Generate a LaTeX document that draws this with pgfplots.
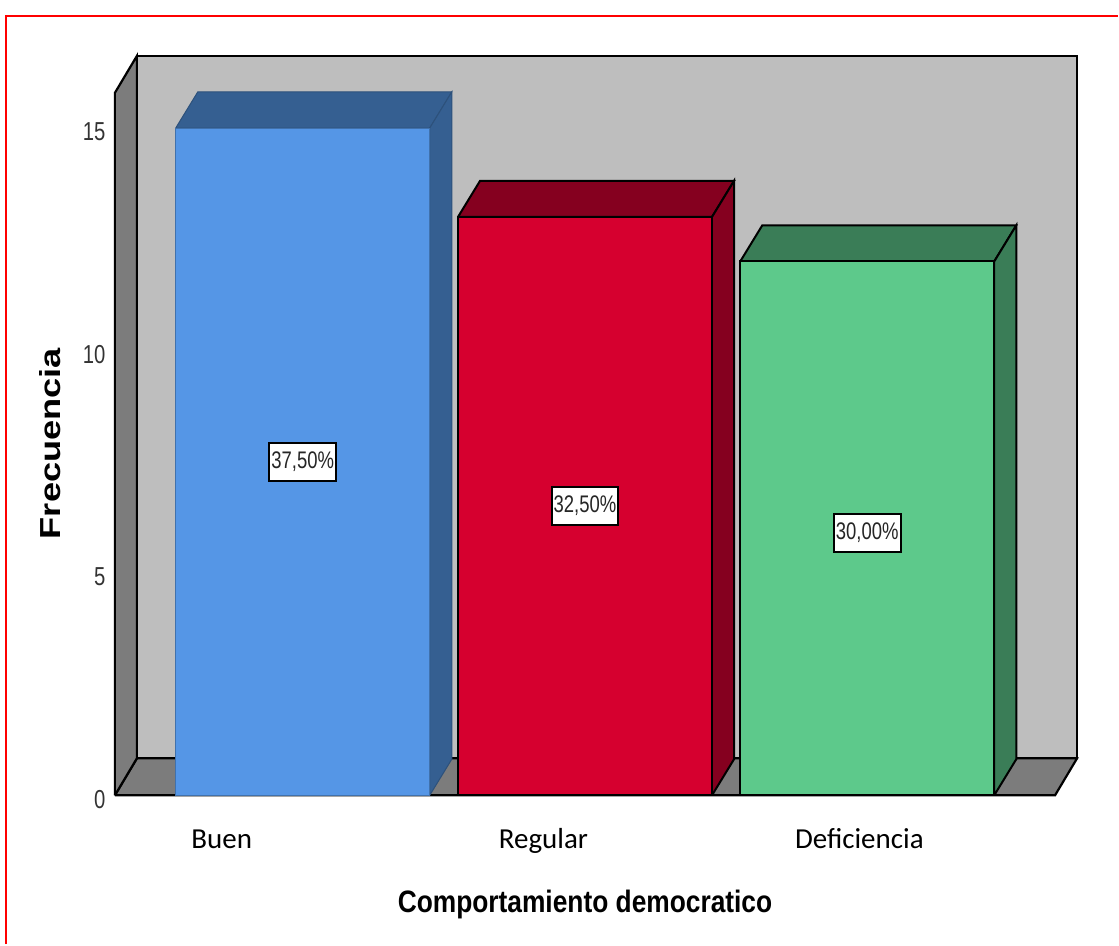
\documentclass[border=0pt]{standalone}
\usepackage{fontspec}
\setmainfont{Liberation Sans}
\newfontfamily\carlito{Carlito}
\usepackage{graphicx}
\usepackage{pgfplots}
\pgfplotsset{compat=1.18}
\definecolor{wallc}{HTML}{BEBEBE}
\definecolor{floorc}{HTML}{7C7C7C}
\definecolor{blueF}{HTML}{5596E6}
\definecolor{blueD}{HTML}{355F91}
\definecolor{redF}{HTML}{D6002F}
\definecolor{redD}{HTML}{85001F}
\definecolor{greenF}{HTML}{5DC98B}
\definecolor{greenD}{HTML}{3A7D57}
\begin{document}
\begin{tikzpicture}[x=1pt,y=1pt]
\path (0,0) rectangle (1119,945);
\draw[red, line width=2pt] (6,0) -- (6,929) -- (1119,929);
\begin{axis}[
    at={(115pt,149pt)}, anchor=south west,
    scale only axis, width=963pt, height=740pt,
    xmin=-0.6655, xmax=2.7434, ymin=0, ymax=16.62,
    axis lines=none, clip=false,
    hide x axis=false, hide y axis=false,
    axis x line=bottom, axis y line=left,
    x axis line style={draw=none}, y axis line style={draw=none},
    major tick length=0pt,
    xtick={-0.287,0.853,1.972},
    xticklabels={Buen,Regular,Deficiencia},
    ytick={0,5,10,15},
    yticklabel={\scalebox{0.78}[1]{\pgfmathprintnumber[assume math mode=true]{\tick}}},
    xticklabel style={font=\carlito\fontsize{29}{33}\selectfont, anchor=base, yshift=-53pt},
    yticklabel style={font=\fontsize{26}{30}\selectfont, text=black!80, yshift=-4pt, xshift=-6pt},
    xlabel={\scalebox{0.85}[1]{Comportamiento democratico}},
    ylabel={\scalebox{1.25}[1]{Frecuencia}},
    xlabel style={font=\bfseries\fontsize{31}{35}\selectfont, at={(axis description cs:0.4886,-0.1475)}, anchor=center},
    ylabel style={font=\bfseries\fontsize{29}{33}\selectfont, at={(axis description cs:-0.0675,0.4757)}, anchor=center},
]
% back wall, floor, left wall
\addplot[fill=wallc, draw=black, line width=2.2pt] coordinates {(-0.5876,0.83) (2.7434,0.83) (2.7434,16.62) (-0.5876,16.62) (-0.5876,0.83)};
\addplot[fill=floorc, draw=black, line width=2.2pt] coordinates {(-0.6655,0) (2.6655,0) (2.7434,0.83) (-0.5876,0.83) (-0.6655,0)};
\addplot[fill=floorc, draw=black, line width=2.2pt] coordinates {(-0.6655,0) (-0.5876,0.83) (-0.5876,16.62) (-0.6655,15.79) (-0.6655,0)};
% Buen
\addplot[fill=blueD, draw=blueD!85!black, line width=1pt] coordinates {(-0.45,15) (0.45,15) (0.528,15.81) (-0.372,15.81) (-0.45,15)};
\addplot[fill=blueD, draw=blueD!85!black, line width=1pt] coordinates {(0.45,0) (0.528,0.81) (0.528,15.81) (0.45,15) (0.45,0)};
\addplot[ybar, bar width=0.9, fill=blueF, draw=blueF!75!black, line width=1pt] coordinates {(0,15)};
% Regular
\addplot[fill=redD, draw=black, line width=2pt] coordinates {(0.55,13) (1.45,13) (1.528,13.81) (0.628,13.81) (0.55,13)};
\addplot[fill=redD, draw=black, line width=2pt] coordinates {(1.45,0) (1.528,0.81) (1.528,13.81) (1.45,13) (1.45,0)};
\addplot[ybar, bar width=0.9, fill=redF, draw=black, line width=2pt] coordinates {(1,13)};
% Deficiencia
\addplot[fill=greenD, draw=black, line width=2pt] coordinates {(1.55,12) (2.45,12) (2.528,12.81) (1.628,12.81) (1.55,12)};
\addplot[fill=greenD, draw=black, line width=2pt] coordinates {(2.45,0) (2.528,0.81) (2.528,12.81) (2.45,12) (2.45,0)};
\addplot[ybar, bar width=0.9, fill=greenF, draw=black, line width=2pt] coordinates {(2,12)};
% percentage boxes
\addplot[draw=none, mark=none, point meta=explicit symbolic,
    nodes near coords={\raisebox{-2pt}{\scalebox{0.77}[1]{\pgfplotspointmeta\%}}},
    nodes near coords style={anchor=center, fill=white, draw=black, line width=2pt,
        font=\fontsize{24}{28}\selectfont, text=black!85, inner sep=0pt, minimum width=67pt, minimum height=38pt},
] coordinates {(0,7.5)[37,50] (1,6.5)[32,50] (2,5.9)[30,00]};
\end{axis}
\end{tikzpicture}
\end{document}
